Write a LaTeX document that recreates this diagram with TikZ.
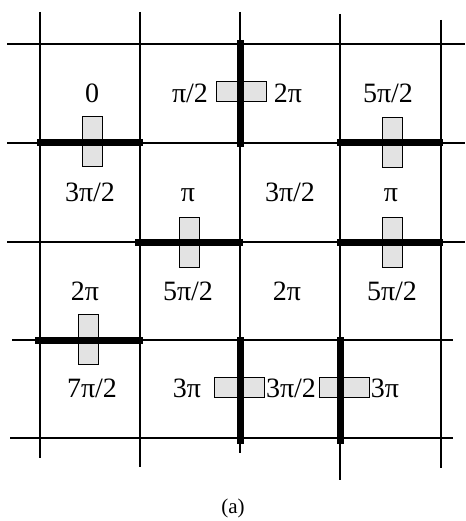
\documentclass[tikz,border=0pt]{standalone}
\usepackage{fontspec}
\setmainfont{Liberation Serif}

\begin{document}
\begin{tikzpicture}[x=1pt, y=-1pt, font=\fontsize{28}{32}\selectfont,
  grid/.style={line width=1.3pt},
  cut/.style={line width=7pt},
  flag/.style={draw, line width=0.8pt, fill=gray!22},
  ph/.style={anchor=base, inner sep=0pt}]
  \useasboundingbox (0,0) rectangle (465,521);
  % grid lines
  \foreach \x/\t/\b in {40/12/458, 140/12/467, 240/12/453, 340/14/480, 441/20/468}
    \draw[grid] (\x,\t) -- (\x,\b);
  \foreach \y/\l/\r in {44/7/465, 143/7/465, 242/7/465, 340/12/453, 438/10/453}
    \draw[grid] (\l,\y) -- (\r,\y);
  % flags across cut edges
  \foreach \x/\y in {92/141, 392/142, 189/242, 392/242, 88/339}
    \draw[flag] (\x-10,\y-25) rectangle (\x+10,\y+25);
  \foreach \x/\y in {241/91, 239/387, 344/387}
    \draw[flag] (\x-25,\y-10) rectangle (\x+25,\y+10);
  % cut edges
  \draw[cut] (37,143) -- (143,143);
  \draw[cut] (337,143) -- (443,143);
  \draw[cut] (135,242) -- (243,242);
  \draw[cut] (337,242) -- (443,242);
  \draw[cut] (35,340) -- (143,340);
  \draw[cut] (240,40) -- (240,147);
  \draw[cut] (240,337) -- (240,444);
  \draw[cut] (340,337) -- (340,444);
  % phase values
  \node[ph] (a1) at (92,103) {0};
  \node[ph] (b1) at (190,103) {π/2};
  \node[ph] (c1) at (288,103) {2π};
  \node[ph] (d1) at (388,103) {5π/2};
  \node[ph] (a2) at (90,201) {3π/2};
  \node[ph] (b2) at (188,201) {π};
  \node[ph] (c2) at (290,201) {3π/2};
  \node[ph] (d2) at (391,201) {π};
  \node[ph] (a3) at (85,300) {2π};
  \node[ph] (b3) at (188,300) {5π/2};
  \node[ph] (c3) at (287,300) {2π};
  \node[ph] (d3) at (392,300) {5π/2};
  \node[ph] (a4) at (92,397) {7π/2};
  \node[ph] (b4) at (187,397) {3π};
  \node[ph] (c4) at (291,397) {3π/2};
  \node[ph] (d4) at (385,397) {3π};
  \node[ph, font=\fontsize{21}{24}\selectfont] (cap) at (233,513) {(a)};
\end{tikzpicture}
\end{document}
